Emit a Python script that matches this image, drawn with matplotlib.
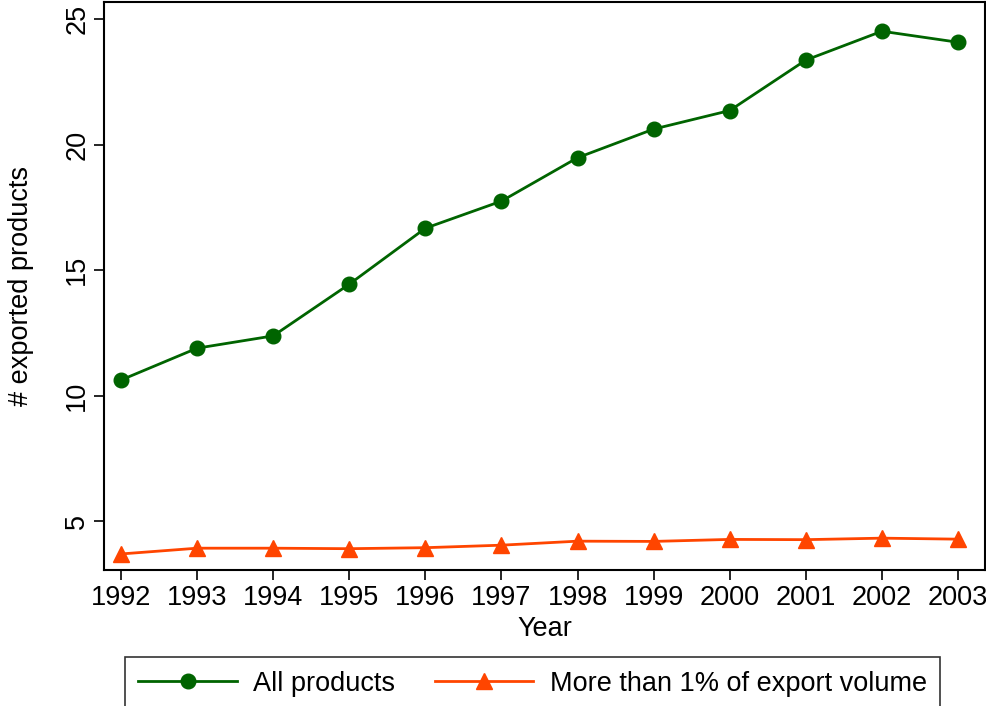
import matplotlib.pyplot as plt

plt.rcParams['font.family'] = ['Liberation Sans', 'DejaVu Sans']

years = [1992, 1993, 1994, 1995, 1996, 1997, 1998, 1999, 2000, 2001, 2002, 2003]
all_products = [10.62, 11.89, 12.38, 14.44, 16.67, 17.75, 19.48, 20.62, 21.36, 23.37, 24.52, 24.08]
more_than_1pct = [3.69, 3.92, 3.92, 3.90, 3.94, 4.04, 4.20, 4.19, 4.27, 4.26, 4.32, 4.28]
yticks = [5, 10, 15, 20, 25]

green = '#006400'
orange = '#ff4500'

fig = plt.figure(figsize=(9.87, 7.06), dpi=100)
ax = fig.add_axes([0.1054, 0.1926, 0.8926, 0.8044])

ax.plot(years, all_products, color=green, lw=2, marker='o', ms=10.5,
        label='All products')
ax.plot(years, more_than_1pct, color=orange, lw=2, marker='^', ms=11,
        label='More than 1% of export volume')

ax.set_xlim(1991.777, 2003.355)
ax.set_ylim(3.05, 25.68)
ax.set_xticks(years)
ax.set_yticks(yticks)
ax.set_yticklabels([str(v) for v in yticks], rotation=90, va='center')
ax.tick_params(labelsize=19.5, length=7, width=1.2, direction='out', colors='black')
ax.tick_params(axis='y', pad=3)
for s in ax.spines.values():
    s.set_linewidth(1.5)

ax.set_xlabel('Year', fontsize=19.5, labelpad=4)
ax.set_ylabel('# exported products', fontsize=19.5, labelpad=22)

leg = fig.legend(loc='upper center', bbox_to_anchor=(0.5395, 0.0694), ncol=2,
                 fontsize=19.5, frameon=True, fancybox=False, edgecolor='black',
                 handlelength=3.65, columnspacing=1.45, borderpad=0.5,
                 handletextpad=0.6, borderaxespad=0)
leg.get_frame().set_linewidth(1.2)

plt.savefig('out.png', dpi=100)
plt.close()
